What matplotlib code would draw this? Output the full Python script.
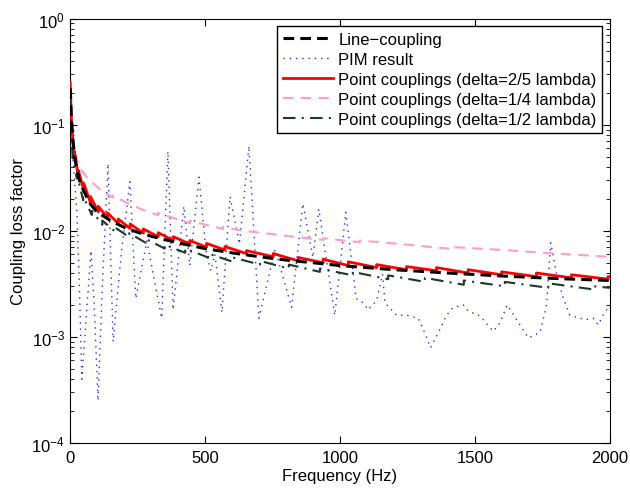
import numpy as np
import matplotlib
matplotlib.use('Agg')
import matplotlib.pyplot as plt

plt.rcParams['font.family'] = ['Liberation Sans', 'DejaVu Sans']
plt.rcParams['mathtext.fontset'] = 'custom'
plt.rcParams['mathtext.rm'] = 'Liberation Sans'

# Line-coupling (smooth)
line_f = [1, 5, 10, 20, 35, 50, 75, 100, 150, 200, 250, 300, 400, 500, 600, 700,
          800, 900, 1000, 1200, 1400, 1600, 1800, 2000]
line_y = [0.22, 0.12, 0.075, 0.045, 0.030, 0.024, 0.018, 0.0150, 0.0125, 0.0108,
          0.0097, 0.0089, 0.0077, 0.0068, 0.0062, 0.0057, 0.0053, 0.0050, 0.0047,
          0.0043, 0.0040, 0.00375, 0.00355, 0.0034]

# PIM result
pim_f = [5, 15, 26, 35, 44, 60, 78, 90, 104, 120, 141, 160, 190, 222, 244, 285,
         340, 363, 382, 422, 444, 478, 505, 522, 537, 563, 593, 628, 663, 700,
         760, 821, 863, 900, 922, 981, 1022, 1060, 1086, 1105, 1136, 1158, 1167,
         1210, 1247, 1290, 1309, 1336, 1370, 1395, 1420, 1457, 1475, 1519, 1568,
         1593, 1620, 1654, 1698, 1741, 1765, 1781, 1802, 1827, 1852, 1889, 1914,
         1938, 1957, 1975, 2000]
pim_y = [0.08, 0.035, 0.015, 0.003, 0.0004, 0.0015, 0.0065, 0.002, 0.00025, 0.003,
         0.043, 0.0009, 0.006, 0.029, 0.0023, 0.008, 0.0015, 0.056, 0.0018, 0.017,
         0.0047, 0.032, 0.006, 0.0042, 0.006, 0.0017, 0.021, 0.0075, 0.063, 0.0015,
         0.0067, 0.0019, 0.018, 0.0056, 0.016, 0.0016, 0.015, 0.0023, 0.0021, 0.0018,
         0.0022, 0.0039, 0.0021, 0.0016, 0.0016, 0.0015, 0.00117, 0.00079, 0.00117,
         0.0016, 0.0019, 0.0020, 0.00175, 0.00158, 0.00113, 0.00136, 0.0020, 0.00146,
         0.00098, 0.0011, 0.00195, 0.0077, 0.0040, 0.00235, 0.0016, 0.0015, 0.00146,
         0.0015, 0.0013, 0.0016, 0.0020]

# Point couplings (delta=2/5 lambda): values just before / after each jump
red_start_f = [1, 5, 10]
red_start_y = [0.25, 0.12, 0.075]
red_jump_f = [16, 31, 51, 76, 105, 139, 179, 223, 272, 327, 383, 444, 506, 574,
              654, 753, 846, 938, 1031, 1136, 1247, 1358, 1475, 1599, 1728, 1858, 1993]
red_before = [0.050, 0.033, 0.0245, 0.0184, 0.0151, 0.0133, 0.0117, 0.0105, 0.0095,
              0.0088, 0.0081, 0.0075, 0.0070, 0.0066, 0.0061, 0.0057, 0.0052, 0.0050,
              0.0047, 0.0045, 0.0043, 0.0042, 0.0040, 0.00385, 0.0037, 0.0036, 0.0035]
red_after = [0.056, 0.037, 0.028, 0.021, 0.0170, 0.0148, 0.0129, 0.0116, 0.0104,
             0.0096, 0.0088, 0.0081, 0.0076, 0.0071, 0.0065, 0.0061, 0.0056, 0.0054,
             0.0051, 0.0048, 0.0046, 0.0045, 0.0043, 0.0041, 0.0040, 0.00385, 0.0037]
red_end = 0.0037

# Point couplings (delta=1/4 lambda)
pink_f = [1, 5, 17, 40, 67, 116, 160, 160, 202, 276, 326, 326, 444, 444, 567, 567,
          630, 750, 877, 938, 938, 1074, 1074, 1200, 1426, 1426, 1600, 1800, 1990,
          1990, 2000]
pink_y = [0.25, 0.11, 0.055, 0.038, 0.031, 0.024, 0.0205, 0.0215, 0.0188, 0.0155,
          0.0140, 0.0147, 0.0118, 0.0124, 0.0104, 0.0109, 0.0101, 0.0093, 0.0085,
          0.0082, 0.0085, 0.0078, 0.0081, 0.0076, 0.0067, 0.0070, 0.0066, 0.0061,
          0.0057, 0.0060, 0.0060]

# Point couplings (delta=1/2 lambda)
green_start_f = [1, 5, 10]
green_start_y = [0.20, 0.08, 0.05]
green_jump_f = [26, 49, 81, 120, 166, 220, 281, 351, 427, 512, 604, 704, 811, 926,
                1048, 1179, 1315, 1459, 1611, 1772, 1940]
green_before = [0.031, 0.0194, 0.0141, 0.0114, 0.0099, 0.0087, 0.0077, 0.0068,
                0.0062, 0.0056, 0.0051, 0.0048, 0.0044, 0.0041, 0.0038, 0.0035,
                0.0033, 0.0031, 0.0030, 0.0029, 0.0028]
green_after = [0.034, 0.0212, 0.0154, 0.0125, 0.0108, 0.0095, 0.0084, 0.0074,
               0.0068, 0.0061, 0.0056, 0.0052, 0.0048, 0.0044, 0.0041, 0.0038,
               0.0036, 0.0034, 0.0033, 0.0032, 0.0030]
green_end = 0.0029


def saw_path(start_f, start_y, jump_f, before, after, end_y):
    xs = list(start_f)
    ys = list(start_y)
    for f, b, a in zip(jump_f, before, after):
        xs += [f, f]
        ys += [b, a]
    xs.append(2000)
    ys.append(end_y)
    return xs, ys


red_x, red_y = saw_path(red_start_f, red_start_y, red_jump_f, red_before, red_after, red_end)
green_x, green_y = saw_path(green_start_f, green_start_y, green_jump_f,
                            green_before, green_after, green_end)

fig = plt.figure(figsize=(6.3, 4.89), dpi=100)
ax = fig.add_axes([0.111, 0.092, 0.857, 0.868])

ax.plot(line_f, line_y, color='black', lw=2.2, ls='--', dashes=(3.5, 2),
        label='Line\u2212coupling', zorder=4)
ax.plot(pim_f, pim_y, color='#2b2bff', lw=1.0, ls=(0, (1, 3.5)),
        label='PIM result', zorder=2)
ax.plot(red_x, red_y, color='#ff0000', lw=2.0, label='Point couplings (delta=2/5 lambda)',
        zorder=3)
ax.plot(pink_f, pink_y, color='#ff9cc8', lw=1.5, ls=(0, (5, 3.5)),
        label='Point couplings (delta=1/4 lambda)', zorder=2)
ax.plot(green_x, green_y, color='#1c3a28', lw=1.5, ls=(0, (6, 3, 1, 3)),
        label='Point couplings (delta=1/2 lambda)', zorder=3)

ax.set_yscale('log')
ax.set_xlim(0, 2000)
ax.set_ylim(1e-4, 1)
ax.set_xticks([0, 500, 1000, 1500, 2000])
ax.set_yticks([1e-4, 1e-3, 1e-2, 1e-1, 1])
ax.tick_params(which='both', direction='in', top=True, right=True, labelsize=12)
ax.tick_params(which='major', length=5)
ax.tick_params(which='minor', length=3)
ax.tick_params(axis='x', pad=5)
ax.set_xlabel('Frequency (Hz)', fontsize=12, labelpad=2)
ax.set_ylabel('Coupling loss factor', fontsize=12, labelpad=4)

leg = ax.legend(loc='upper right', fontsize=12, fancybox=False, framealpha=1,
                edgecolor='black', borderaxespad=0.45, handlelength=3.0,
                labelspacing=0.3, borderpad=0.35, handletextpad=0.3)
leg.get_frame().set_linewidth(1.0)

fig.savefig('out.png', dpi=100)
